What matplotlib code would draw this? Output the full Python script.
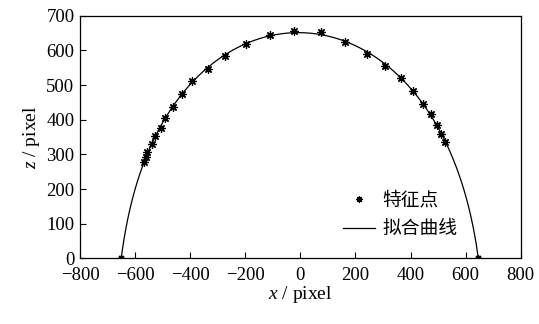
import numpy as np
import matplotlib
matplotlib.use("Agg")
import matplotlib.pyplot as plt
from matplotlib.lines import Line2D

plt.rcParams["mathtext.fontset"] = "custom"
plt.rcParams["mathtext.it"] = "Liberation Serif:italic"
plt.rcParams["mathtext.rm"] = "Liberation Serif"

# feature points (x, z in pixel)
pts_x = [-567, -561, -555, -540, -527, -507, -491, -464, -428, -392, -337,
         -275, -198, -111, -23, 76, 162, 243, 309, 364, 410, 445, 473, 497,
         511, 527]
pts_z = [278, 293, 306, 331, 352, 377, 405, 437, 473, 513, 547,
         583, 617, 644, 655, 653, 623, 590, 556, 521, 482, 446, 417, 386,
         359, 335]
# curve ends on the ground line
end_x = [-650, 646]
end_z = [0, 0]

XTICKS = [-800, -600, -400, -200, 0, 200, 400, 600, 800]
ZTICKS = [0, 100, 200, 300, 400, 500, 600, 700]

serif = ["Liberation Serif", "DejaVu Serif"]
cjk = ["Noto Sans CJK SC", "DejaVu Sans"]

# fitted curve: polynomial r(theta) through points + ends
ax_all = np.array(pts_x + end_x, float)
az_all = np.array(pts_z + end_z, float)
th = np.arctan2(az_all, ax_all)
r = np.hypot(ax_all, az_all)
coef = np.polyfit(th, r, 5)
tt = np.linspace(0, np.pi, 400)
rr = np.polyval(coef, tt)
cx, cz = rr * np.cos(tt), rr * np.sin(tt)

fig = plt.figure(figsize=(5.39, 3.24), dpi=100)
ax = fig.add_axes([0.1484, 0.2025, 0.8176, 0.7490])

ast = (8, 2, 0)
ax.plot(cx, cz, color="black", linewidth=0.9)
ax.plot(pts_x, pts_z, linestyle="none", marker=ast, markersize=6,
        markeredgewidth=0.9, color="black")
ax.plot(end_x, end_z, linestyle="none", marker=ast, markersize=5,
        markeredgewidth=0.9, color="black")

ax.set_xlim(-800, 800)
ax.set_ylim(0, 700)
ax.set_xticks(XTICKS)
ax.set_yticks(ZTICKS)
ax.set_xticklabels([str(v).replace("-", "\u2212") for v in XTICKS])
ax.tick_params(direction="in", length=4, width=0.8, labelsize=13.5,
               top=False, right=False, pad=4)
ax.tick_params(axis="x", pad=6)
for lab in ax.get_xticklabels() + ax.get_yticklabels():
    lab.set_fontfamily(serif)
for s in ax.spines.values():
    s.set_linewidth(0.9)

ax.set_xlabel("$\\it{x}$ / pixel", fontsize=14, family=serif, labelpad=0)
ax.set_ylabel("$\\it{z}$ / pixel", fontsize=14, family=serif, labelpad=3)

handles = [
    Line2D([], [], linestyle="none", marker=ast, markersize=4.5,
           markeredgewidth=0.9, color="black"),
    Line2D([], [], color="black", linewidth=0.9),
]
ax.legend(handles, ["特征点", "拟合曲线"], loc="lower right",
          bbox_to_anchor=(0.895, 0.01), frameon=False,
          prop={"family": cjk, "size": 13.5}, handlelength=1.7,
          handletextpad=0.4, labelspacing=0.4)

fig.savefig("out.png", dpi=100)
